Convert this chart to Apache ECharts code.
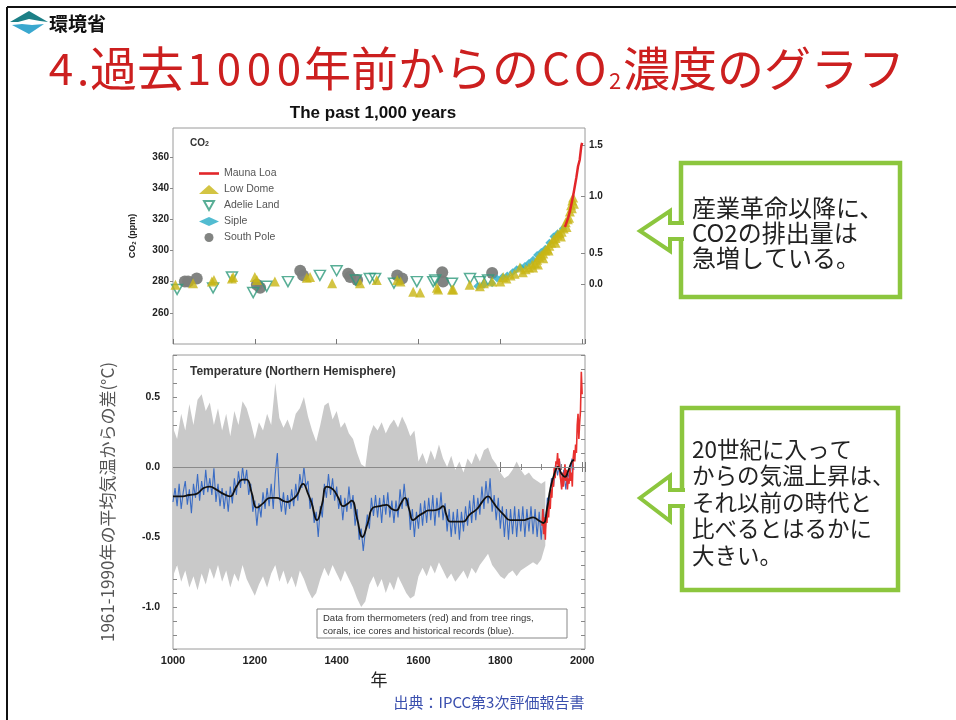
<!DOCTYPE html>
<html><head><meta charset="utf-8">
<script src="https://cdn.jsdelivr.net/npm/echarts@6/dist/echarts.min.js"></script>
<style>html,body{margin:0;padding:0;background:#fff}#c{width:956px;height:720px}</style>
</head><body><div id="c"></div>
<script>
// ---------- CO2 panel data [year, ppm] ----------
const maunaLoa = [[1958,315],[1962,318],[1966,321],[1970,325],[1974,330],[1978,335],[1982,341],[1986,347],[1990,354],[1994,358],[1998,367],[2000,369]];
const lowDome = [[1006,278],[1049,279],[1095,280],[1100,281],[1144,282],[1147,283],[1200,283],[1205,281],[1249,280],[1327,282.5],[1335,283],[1389,279],[1457,279],[1498,281],[1548,281],[1556,280],[1587,273.5],[1604,273],[1645,276],[1648,275],[1682,275],[1685,275],[1725,278],[1750,277],[1760,279],[1780,280],[1800,280],[1807,283],[1815,282],[1825,284],[1835,285],[1848,289],[1855,286],[1862,288],[1870,289],[1878,291],[1880,289],[1885,292],[1890,294],[1892,291],[1895,296],[1900,297],[1905,298],[1905,295],[1910,300],[1915,301],[1918,300],[1920,303],[1925,305],[1930,307],[1935,308],[1935,305],[1940,310],[1945,311],[1948,309],[1950,312],[1955,314],[1960,318],[1962,315],[1965,320],[1968,321],[1970,325],[1973,329],[1975,327],[1976,332],[1978,334],[1980,330]];
const adelieLand = [[1010,275],[1098,276],[1144,283],[1196,273],[1229,277],[1281,280],[1359,284],[1400,287],[1447,281],[1481,282],[1494,282],[1540,279],[1596,280],[1636,280],[1641,281],[1682,279],[1726,282],[1750,280],[1770,281]];
const siple = [[1744,277],[1760,278],[1780,279],[1792,282],[1805,283],[1817,284],[1830,286],[1840,288],[1850,289],[1860,290],[1870,292],[1880,294],[1890,297],[1900,299],[1910,301],[1920,305],[1930,309],[1940,311],[1953,314]];
const southPole = [[1029,280],[1037,280],[1058,282],[1205,278],[1213,276],[1311,287],[1318,284],[1428,285],[1433,283],[1450,281],[1548,284],[1560,282],[1658,286],[1660,280],[1780,285.5]];
const forcingLabels = ['0.0','0.5','1.0','1.5'];
const forcingAtPpm = [278,298.5,334.5,367.7];

// ---------- Temperature panel data [year, °C] ----------
const bandUpper = [[1000,0.28],[1010,0.20],[1020,0.38],[1030,0.26],[1040,0.45],[1050,0.30],[1060,0.48],[1070,0.52],[1080,0.40],[1090,0.46],[1100,0.30],[1110,0.42],[1120,0.26],[1130,0.38],[1140,0.22],[1150,0.40],[1160,0.30],[1170,0.47],[1180,0.42],[1190,0.32],[1200,0.20],[1210,0.32],[1220,0.26],[1230,0.38],[1240,0.30],[1250,0.60],[1260,0.35],[1270,0.28],[1280,0.34],[1290,0.26],[1300,0.38],[1310,0.42],[1320,0.50],[1330,0.36],[1340,0.26],[1350,0.18],[1360,0.30],[1370,0.44],[1380,0.46],[1390,0.34],[1400,0.40],[1410,0.28],[1420,0.32],[1430,0.24],[1440,0.20],[1450,0.10],[1460,0.02],[1470,0.00],[1480,0.22],[1490,0.30],[1500,0.26],[1510,0.32],[1520,0.24],[1530,0.30],[1540,0.34],[1550,0.28],[1560,0.36],[1570,0.30],[1580,0.22],[1590,0.26],[1600,0.04],[1610,0.10],[1620,0.02],[1630,0.12],[1640,0.05],[1650,0.16],[1660,0.06],[1670,0.00],[1680,0.08],[1690,-0.02],[1700,0.04],[1710,-0.04],[1720,0.06],[1730,0.02],[1740,0.10],[1750,0.04],[1760,0.12],[1770,0.14],[1780,0.06],[1790,0.02],[1800,-0.04],[1810,-0.08],[1820,-0.06],[1830,-0.02],[1840,0.04],[1850,-0.02],[1860,-0.06],[1870,-0.04],[1880,-0.08],[1890,-0.10],[1900,-0.12],[1910,-0.10]];
const bandLower = [[1000,-0.78],[1010,-0.70],[1020,-0.82],[1030,-0.74],[1040,-0.86],[1050,-0.78],[1060,-0.88],[1070,-0.76],[1080,-0.84],[1090,-0.72],[1100,-0.80],[1110,-0.70],[1120,-0.82],[1130,-0.74],[1140,-0.86],[1150,-0.76],[1160,-0.82],[1170,-0.70],[1180,-0.80],[1190,-0.86],[1200,-0.92],[1210,-0.84],[1220,-0.78],[1230,-0.86],[1240,-0.76],[1250,-0.70],[1260,-0.82],[1270,-0.74],[1280,-0.84],[1290,-0.78],[1300,-0.86],[1310,-0.74],[1320,-0.80],[1330,-0.88],[1340,-0.94],[1350,-0.90],[1360,-0.80],[1370,-0.72],[1380,-0.78],[1390,-0.70],[1400,-0.76],[1410,-0.82],[1420,-0.74],[1430,-0.80],[1440,-0.86],[1450,-0.94],[1460,-1.00],[1470,-0.96],[1480,-0.84],[1490,-0.78],[1500,-0.86],[1510,-0.80],[1520,-0.90],[1530,-0.82],[1540,-0.88],[1550,-0.78],[1560,-0.84],[1570,-0.90],[1580,-0.94],[1590,-0.92],[1600,-0.78],[1610,-0.72],[1620,-0.78],[1630,-0.70],[1640,-0.76],[1650,-0.68],[1660,-0.74],[1670,-0.80],[1680,-0.76],[1690,-0.82],[1700,-0.78],[1710,-0.74],[1720,-0.80],[1730,-0.72],[1740,-0.76],[1750,-0.70],[1760,-0.66],[1770,-0.62],[1780,-0.70],[1790,-0.74],[1800,-0.78],[1810,-0.80],[1820,-0.76],[1830,-0.74],[1840,-0.78],[1850,-0.74],[1860,-0.72],[1870,-0.70],[1880,-0.68],[1890,-0.70],[1900,-0.66],[1910,-0.56]];
const proxyBlue = [[1000,-0.25],[1005,-0.15],[1010,-0.28],[1015,-0.12],[1020,-0.30],[1025,-0.18],[1030,-0.10],[1035,-0.27],[1040,-0.16],[1045,-0.33],[1050,-0.12],[1055,-0.22],[1060,-0.05],[1065,-0.24],[1070,-0.10],[1075,-0.20],[1080,-0.02],[1085,-0.18],[1090,-0.08],[1095,-0.20],[1100,-0.01],[1105,-0.25],[1110,-0.12],[1115,-0.28],[1120,-0.15],[1125,-0.30],[1130,-0.17],[1135,-0.32],[1140,-0.14],[1145,-0.26],[1150,-0.08],[1155,-0.20],[1160,-0.03],[1165,-0.15],[1170,0.00],[1175,-0.12],[1180,-0.02],[1185,-0.20],[1190,-0.12],[1195,-0.32],[1200,-0.24],[1205,-0.42],[1210,-0.26],[1215,-0.36],[1220,-0.18],[1225,-0.30],[1230,-0.15],[1235,-0.28],[1240,-0.12],[1245,-0.30],[1250,-0.05],[1255,0.10],[1260,-0.20],[1265,-0.32],[1270,-0.18],[1275,-0.34],[1280,-0.20],[1285,-0.30],[1290,-0.16],[1295,-0.28],[1300,-0.12],[1305,-0.24],[1310,-0.05],[1315,-0.15],[1320,0.00],[1325,-0.14],[1330,-0.10],[1335,-0.30],[1340,-0.22],[1345,-0.40],[1350,-0.32],[1355,-0.50],[1360,-0.28],[1365,-0.36],[1370,-0.12],[1375,-0.22],[1380,-0.05],[1385,-0.20],[1390,-0.08],[1395,-0.24],[1400,-0.14],[1405,-0.30],[1410,-0.20],[1415,-0.38],[1420,-0.22],[1425,-0.32],[1430,-0.14],[1435,-0.30],[1440,-0.20],[1445,-0.42],[1450,-0.30],[1455,-0.52],[1460,-0.44],[1465,-0.60],[1470,-0.46],[1475,-0.34],[1480,-0.44],[1485,-0.22],[1490,-0.35],[1495,-0.20],[1500,-0.36],[1505,-0.22],[1510,-0.40],[1515,-0.20],[1520,-0.34],[1525,-0.18],[1530,-0.36],[1535,-0.24],[1540,-0.40],[1545,-0.24],[1550,-0.36],[1555,-0.16],[1560,-0.30],[1565,-0.12],[1570,-0.28],[1575,-0.22],[1580,-0.45],[1585,-0.30],[1590,-0.50],[1595,-0.32],[1600,-0.44],[1605,-0.26],[1610,-0.42],[1615,-0.24],[1620,-0.40],[1625,-0.22],[1630,-0.38],[1635,-0.20],[1640,-0.42],[1645,-0.22],[1650,-0.36],[1655,-0.18],[1660,-0.38],[1665,-0.26],[1670,-0.46],[1675,-0.30],[1680,-0.50],[1685,-0.32],[1690,-0.48],[1695,-0.30],[1700,-0.52],[1705,-0.32],[1710,-0.46],[1715,-0.28],[1720,-0.42],[1725,-0.24],[1730,-0.40],[1735,-0.20],[1740,-0.38],[1745,-0.22],[1750,-0.34],[1755,-0.14],[1760,-0.30],[1765,-0.10],[1770,-0.26],[1775,-0.08],[1780,-0.32],[1785,-0.20],[1790,-0.38],[1795,-0.22],[1800,-0.44],[1805,-0.28],[1810,-0.50],[1815,-0.30],[1820,-0.52],[1825,-0.30],[1830,-0.48],[1835,-0.28],[1840,-0.50],[1845,-0.30],[1850,-0.46],[1855,-0.28],[1860,-0.50],[1865,-0.30],[1870,-0.46],[1875,-0.28],[1880,-0.48],[1885,-0.30],[1890,-0.50],[1895,-0.32],[1900,-0.52],[1905,-0.30],[1910,-0.46],[1915,-0.22],[1920,-0.26],[1925,-0.08],[1930,-0.14],[1935,0.02],[1940,-0.06],[1945,0.04],[1950,-0.14],[1955,-0.02],[1960,-0.16],[1965,-0.04],[1970,-0.10],[1975,0.06],[1980,-0.02]];
const smoothBlack = [[1000,-0.21],[1017,-0.21],[1040,-0.20],[1059,-0.19],[1075,-0.15],[1090,-0.14],[1105,-0.16],[1122,-0.19],[1139,-0.21],[1155,-0.14],[1170,-0.09],[1180,-0.09],[1192,-0.18],[1205,-0.29],[1220,-0.26],[1237,-0.22],[1254,-0.22],[1268,-0.24],[1279,-0.25],[1292,-0.23],[1303,-0.20],[1318,-0.12],[1330,-0.19],[1339,-0.26],[1352,-0.38],[1364,-0.27],[1376,-0.14],[1391,-0.16],[1404,-0.22],[1416,-0.28],[1428,-0.26],[1437,-0.24],[1450,-0.37],[1463,-0.50],[1476,-0.40],[1489,-0.29],[1505,-0.28],[1522,-0.27],[1535,-0.30],[1546,-0.31],[1557,-0.26],[1567,-0.22],[1577,-0.30],[1587,-0.38],[1600,-0.35],[1611,-0.33],[1625,-0.31],[1636,-0.31],[1650,-0.30],[1660,-0.28],[1668,-0.34],[1677,-0.39],[1695,-0.39],[1709,-0.39],[1725,-0.34],[1743,-0.30],[1758,-0.24],[1770,-0.21],[1782,-0.25],[1792,-0.29],[1808,-0.34],[1824,-0.38],[1840,-0.38],[1856,-0.38],[1868,-0.37],[1880,-0.36],[1893,-0.38],[1905,-0.40],[1914,-0.30],[1922,-0.16],[1932,-0.05],[1941,0.00],[1950,-0.05],[1958,-0.07],[1967,-0.02],[1975,0.04],[1980,0.05]];
const thermoRed = [[1902,-0.42],[1904,-0.30],[1906,-0.48],[1908,-0.36],[1910,-0.52],[1912,-0.34],[1914,-0.40],[1916,-0.26],[1918,-0.36],[1920,-0.24],[1922,-0.30],[1924,-0.16],[1926,-0.22],[1928,-0.08],[1930,-0.14],[1932,0.00],[1934,-0.08],[1936,0.04],[1938,0.02],[1940,0.10],[1942,-0.02],[1944,0.06],[1946,-0.06],[1948,-0.10],[1950,-0.16],[1952,-0.04],[1954,-0.14],[1956,-0.08],[1958,0.02],[1960,-0.10],[1962,-0.02],[1964,-0.16],[1966,-0.08],[1968,-0.12],[1970,0.00],[1972,-0.10],[1974,-0.04],[1976,-0.14],[1978,0.06],[1980,0.12],[1982,0.04],[1984,0.16],[1986,0.10],[1988,0.30],[1990,0.38],[1992,0.20],[1994,0.32],[1996,0.40],[1998,0.68],[2000,0.52]];
const tempLabels = [-1.0,-0.5,0.0,0.5];

const FONT_NUM = 'Liberation Sans';
const FONT_JP = 'Noto Sans CJK JP';
const GREEN = '#8cc63e';
const RED = '#cc1f1f';
const numLabel = {fontFamily: FONT_NUM, fontWeight:'bold', fontSize:10.5, color:'#222'};

const chart = echarts.init(document.getElementById('c'), null, {renderer:'canvas', width:956, height:720});

function xAxisBase(grid, pos){
  return {type:'value', gridIndex:grid, position:pos, min:1000, max:2007, interval:200,
    axisLine:{show:false}, splitLine:{show:false},
    axisTick:{show:true, inside:true, length:5, lineStyle:{color:'#777'}},
    axisLabel:{show:false}};
}

const option = {
  animation:false,
  backgroundColor:'#fff',
  grid:[
    {left:173, top:128, width:412, height:216, show:true, borderColor:'#9a9a9a', borderWidth:1, backgroundColor:'transparent'},
    {left:173, top:355, width:412, height:294, show:true, borderColor:'#9a9a9a', borderWidth:1, backgroundColor:'transparent'}
  ],
  legend:{
    data:[
      {name:'Mauna Loa', icon:'path://M0,0H20V2.6H0Z'},
      {name:'Low Dome', icon:'triangle'},
      {name:'Adelie Land', icon:'path://M0,0 L10,0 L5,9 Z'},
      {name:'Siple', icon:'diamond'},
      {name:'South Pole', icon:'circle'}
    ],
    orient:'vertical', left:194, top:163, itemWidth:20, itemHeight:9, itemGap:5,
    symbolKeepAspect:true,
    selectedMode:false,
    textStyle:{fontFamily:FONT_NUM, fontSize:10.5, color:'#555'}
  },
  xAxis:[
    xAxisBase(0,'bottom'),
    Object.assign(xAxisBase(1,'bottom'), {
      axisLabel:{show:true, margin:6, showMaxLabel:false, ...numLabel, fontSize:11, formatter:(v)=>String(v)},
      minorTick:{show:true, splitNumber:4, length:3, lineStyle:{color:'#888'}},
      name:'年', nameLocation:'middle', nameGap:22,
      nameTextStyle:{fontFamily:FONT_JP, fontSize:17, color:'#222'}
    }),
    Object.assign(xAxisBase(1,'top'), {
      minorTick:{show:true, splitNumber:4, length:3, lineStyle:{color:'#888'}}
    })
  ],
  yAxis:[
    {type:'value', gridIndex:0, position:'left', min:240, max:378.5, interval:20,
      axisLine:{show:false}, splitLine:{show:false},
      axisTick:{show:true, inside:false, length:3, lineStyle:{color:'#888'}},
      axisLabel:{margin:4, showMinLabel:false, showMaxLabel:false, ...numLabel, fontSize:10},
      name:'{a|CO}{b|2}{a| (ppm)}', nameLocation:'middle', nameGap:36,
      nameTextStyle:{rich:{a:{fontFamily:FONT_NUM, fontWeight:'bold', fontSize:9, color:'#222'}, b:{fontFamily:FONT_NUM, fontWeight:'bold', fontSize:6, color:'#222', verticalAlign:'bottom'}}}
    },
    {type:'value', gridIndex:0, position:'right', min:240, max:378.5,
      axisLine:{show:false}, splitLine:{show:false},
      axisTick:{show:true, inside:true, length:4, customValues:forcingAtPpm, lineStyle:{color:'#888'}},
      axisLabel:{margin:4, customValues:forcingAtPpm, ...numLabel, fontSize:10,
        formatter:(v)=>{const i=forcingAtPpm.findIndex(p=>Math.abs(p-v)<0.01); return i>=0?forcingLabels[i]:'';}}
    },
    {type:'value', gridIndex:1, position:'left', min:-1.3, max:0.8, interval:0.1,
      axisLine:{show:false}, splitLine:{show:false},
      axisTick:{show:true, inside:true, length:4, lineStyle:{color:'#888'}},
      axisLabel:{margin:13, customValues:tempLabels, ...numLabel, formatter:(v)=>v.toFixed(1)},
      name:'1961-1990年の平均気温からの差(°C)', nameLocation:'middle', nameGap:57,
      nameTextStyle:{fontFamily:FONT_JP, fontSize:17, color:'#555'}
    },
    {type:'value', gridIndex:1, position:'right', min:-1.3, max:0.8, interval:0.1,
      axisLine:{show:false}, splitLine:{show:false},
      axisTick:{show:true, inside:true, length:4, lineStyle:{color:'#888'}},
      axisLabel:{show:false}
    }
  ],
  series:[
    // CO2 panel
    {name:'South Pole', type:'scatter', xAxisIndex:0, yAxisIndex:0, data:southPole, symbol:'circle', symbolSize:12,
      itemStyle:{color:'#7b7d7b', opacity:0.95}, z:2},
    {name:'Adelie Land', type:'scatter', xAxisIndex:0, yAxisIndex:0, data:adelieLand, symbol:'path://M0,0 L10,0 L5,9 Z', symbolSize:[11,10],
      itemStyle:{color:'rgba(255,255,255,0)', borderColor:'#2e9a7c', borderWidth:1.5}, z:3},
    {name:'Siple', type:'scatter', xAxisIndex:0, yAxisIndex:0, data:siple, symbol:'diamond', symbolSize:8,
      itemStyle:{color:'#27abc6'}, z:3},
    {name:'Low Dome', type:'scatter', xAxisIndex:0, yAxisIndex:0, data:lowDome, symbol:'triangle', symbolSize:10,
      itemStyle:{color:'#c8b514'}, z:4},
    {name:'Mauna Loa', type:'line', xAxisIndex:0, yAxisIndex:0, data:maunaLoa, symbol:'none',
      lineStyle:{color:'#e2262a', width:2.5}, itemStyle:{color:'#e2262a'}, z:5},
    // Temperature panel: uncertainty band drawn from the two envelopes through the axes' scales
    {name:'band', type:'custom', xAxisIndex:1, yAxisIndex:2, data:bandUpper, silent:true, z:1,
      renderItem:(params, api)=>{
        if (params.dataIndex !== 0) return null;
        const pts = bandUpper.map(p=>api.coord(p)).concat(bandLower.slice().reverse().map(p=>api.coord(p)));
        return {type:'polygon', shape:{points:pts}, style:{fill:'#c9c9c9'}};
      }},
    {name:'proxy', type:'line', xAxisIndex:1, yAxisIndex:2, data:proxyBlue, symbol:'none',
      lineStyle:{color:'#3a6cc4', width:1.1}, z:2,
      markLine:{silent:true, symbol:'none', label:{show:false}, lineStyle:{color:'#8a8a8a', width:1, type:'solid'}, data:[{yAxis:0}]}},
    {name:'thermo', type:'line', xAxisIndex:1, yAxisIndex:2, data:thermoRed, symbol:'none',
      lineStyle:{color:'#e8302e', width:1.6}, z:3},
    {name:'smooth', type:'line', xAxisIndex:1, yAxisIndex:2, data:smoothBlack, symbol:'none', smooth:0.5,
      lineStyle:{color:'#111', width:1.8}, z:4}
  ],
  graphic:[
    // slide frame
    {type:'line', shape:{x1:7, y1:7, x2:956, y2:7}, style:{stroke:'#111', lineWidth:2}},
    {type:'line', shape:{x1:7, y1:7, x2:7, y2:720}, style:{stroke:'#111', lineWidth:2}},
    // logo
    {type:'polygon', shape:{points:[[10,22],[29,11],[48,22],[40,21],[29,19],[18,22]]}, style:{fill:'#1b7f86'}},
    {type:'polygon', shape:{points:[[12,25],[22,24],[32,25],[44,24],[29,34]]}, style:{fill:'#3aa8cf'}},
    {type:'text', x:49, y:24, style:{text:'環境省', font:'bold 19px "Noto Sans CJK JP"', fill:'#111', verticalAlign:'middle'}},
    // slide title
    {type:'text', x:46, y:68, style:{
      text:'{d|4}{p|.}{k|過去}{d|1}{d|0}{d|0}{d|0}{k|年前からの}{c|C}{c|O}{s|2}{k|濃度のグラフ}', verticalAlign:'middle',
      rich:{
        k:{fontFamily:FONT_JP, fontSize:47, fill:RED, align:'center'},
        d:{fontFamily:FONT_JP, fontSize:44, fill:RED, width:30, align:'center'},
        p:{fontFamily:FONT_JP, fontSize:44, fill:RED, width:14, align:'center'},
        c:{fontFamily:FONT_JP, fontSize:44, fill:RED, width:34, align:'center'},
        s:{fontFamily:FONT_JP, fontSize:22, fill:RED, width:16, align:'center', verticalAlign:'bottom'}
      }}},
    // chart title
    {type:'text', x:373, y:113, style:{text:'The past 1,000 years', font:'bold 17px "Liberation Sans"', fill:'#111', align:'center', verticalAlign:'middle'}},
    {type:'text', x:190, y:143, style:{text:'{a|CO}{b|2}', verticalAlign:'middle',
      rich:{a:{fontFamily:FONT_NUM, fontWeight:'bold', fontSize:10, fill:'#333'}, b:{fontFamily:FONT_NUM, fontWeight:'bold', fontSize:7, fill:'#333', verticalAlign:'bottom'}}}},
    {type:'text', x:190, y:372, style:{text:'Temperature (Northern Hemisphere)', font:'bold 12px "Liberation Sans"', fill:'#333', verticalAlign:'middle'}},
    // data note box
    {type:'rect', shape:{x:317, y:609, width:250, height:29}, style:{fill:'#fff', stroke:'#888', lineWidth:1}, z:10},
    {type:'text', x:323, y:618, z:11, style:{text:'Data from thermometers (red) and from tree rings,', font:'9.5px "Liberation Sans"', fill:'#333', verticalAlign:'middle'}},
    {type:'text', x:323, y:631, z:11, style:{text:'corals, ice cores and historical records (blue).', font:'9.5px "Liberation Sans"', fill:'#333', verticalAlign:'middle'}},
    // source
    {type:'text', x:489, y:702, style:{text:'出典：IPCC第3次評価報告書', font:'15px "Noto Sans CJK JP"', fill:'#3a4fae', align:'center', verticalAlign:'middle'}},
    // annotation box 1
    {type:'rect', shape:{x:681, y:163, width:219, height:134}, style:{fill:'#fff', stroke:GREEN, lineWidth:4.5}},
    {type:'polygon', shape:{points:[[686,223],[670,223],[670,211],[640,231],[670,251],[670,239],[686,239]]}, style:{fill:'#fff'}},
    {type:'polyline', shape:{points:[[684,223],[670,223],[670,211],[640,231],[670,251],[670,239],[684,239]]}, style:{stroke:GREEN, lineWidth:4, fill:null, lineJoin:'miter'}},
    {type:'text', x:692, y:208, style:{text:'産業革命以降に、', font:'24px "Noto Sans CJK JP"', fill:'#222', verticalAlign:'middle'}},
    {type:'text', x:692, y:233, style:{text:'CO2の排出量は', font:'24px "Noto Sans CJK JP"', fill:'#222', verticalAlign:'middle'}},
    {type:'text', x:692, y:258, style:{text:'急増している。', font:'24px "Noto Sans CJK JP"', fill:'#222', verticalAlign:'middle'}},
    // annotation box 2
    {type:'rect', shape:{x:682, y:408, width:216, height:182}, style:{fill:'#fff', stroke:GREEN, lineWidth:4.5}},
    {type:'polygon', shape:{points:[[687,490],[670,490],[670,476],[640,498],[670,521],[670,506],[687,506]]}, style:{fill:'#fff'}},
    {type:'polyline', shape:{points:[[685,490],[670,490],[670,476],[640,498],[670,521],[670,506],[685,506]]}, style:{stroke:GREEN, lineWidth:4, fill:null, lineJoin:'miter'}},
    {type:'text', x:692, y:449, style:{text:'20世紀に入って', font:'22.5px "Noto Sans CJK JP"', fill:'#222', verticalAlign:'middle'}},
    {type:'text', x:692, y:475, style:{text:'からの気温上昇は、', font:'22.5px "Noto Sans CJK JP"', fill:'#222', verticalAlign:'middle'}},
    {type:'text', x:692, y:502, style:{text:'それ以前の時代と', font:'22.5px "Noto Sans CJK JP"', fill:'#222', verticalAlign:'middle'}},
    {type:'text', x:692, y:528, style:{text:'比べるとはるかに', font:'22.5px "Noto Sans CJK JP"', fill:'#222', verticalAlign:'middle'}},
    {type:'text', x:692, y:555, style:{text:'大きい。', font:'22.5px "Noto Sans CJK JP"', fill:'#222', verticalAlign:'middle'}}
  ]
};
chart.setOption(option);
</script></body></html>
